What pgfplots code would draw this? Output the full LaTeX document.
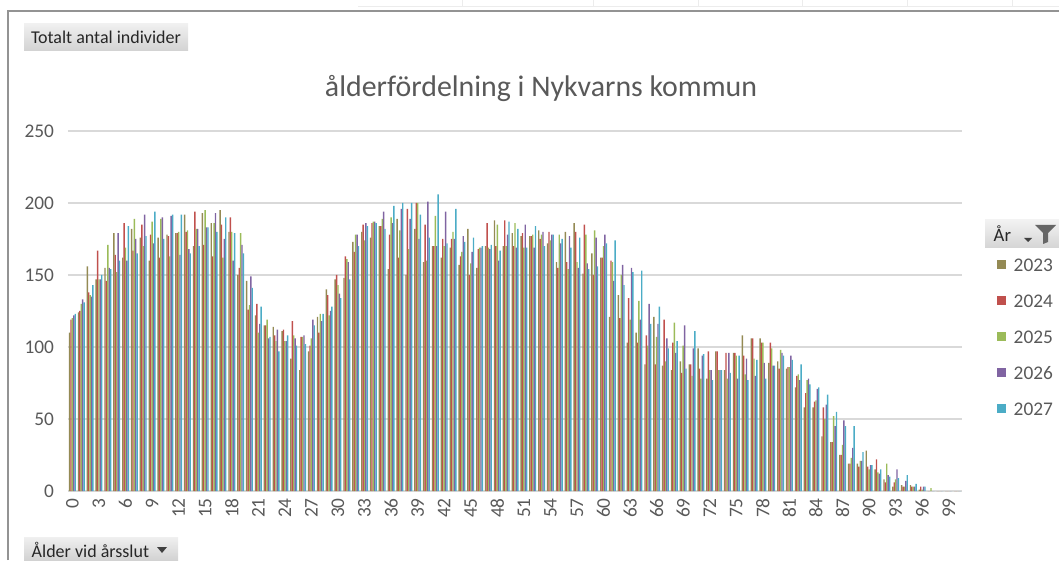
\documentclass[border=0pt]{standalone}
\usepackage{fontspec}
\setmainfont{Carlito}
\usepackage{pgfplots}
\pgfplotsset{compat=1.18}
\usepackage{pgfplotstable}
\definecolor{c23}{HTML}{948A54}
\definecolor{c24}{HTML}{C0504D}
\definecolor{c25}{HTML}{9BBB59}
\definecolor{c26}{HTML}{8064A2}
\definecolor{c27}{HTML}{4BACC6}
\definecolor{txt}{HTML}{595959}
\definecolor{gridc}{HTML}{D9D9D9}
\pgfplotstableread{
age y23 y24 y25 y26 y27
0 110 119 120 122 123
1 124 125 130 133 131
2 156 138 136 135 143
3 147 167 147 147 150
4 155 146 171 155 154
5 179 164 152 179 160
6 162 186 169 160 184
7 182 167 189 175 165
8 176 185 170 192 177
9 160 178 187 172 194
10 176 162 189 190 175
11 178 177 163 191 192
12 179 179 180 164 192
13 192 180 181 168 165
14 170 194 182 182 170
15 193 171 195 183 183
16 186 163 186 193 180
17 195 185 162 175 190
18 180 190 180 160 179
19 150 155 179 171 165
20 146 126 129 149 141
21 122 130 110 116 128
22 115 115 119 106 107
23 114 108 104 112 97
24 111 112 104 104 108
25 92 118 108 106 101
26 84 107 107 108 102
27 97 101 106 119 115
28 121 110 123 118 123
29 140 136 122 125 128
30 147 150 143 137 134
31 148 163 161 159 147
32 173 166 178 178 170
33 180 185 174 186 184
34 176 186 187 187 186
35 184 184 189 194 182
36 154 178 190 186 198
37 189 162 181 196 200
38 150 196 168 189 200
39 182 200 200 175 192
40 159 185 160 201 176
41 170 170 191 170 206
42 162 175 170 194 172
43 169 175 180 175 196
44 157 163 166 177 173
45 182 150 158 166 176
46 155 168 169 169 170
47 170 186 169 168 171
48 188 170 185 160 167
49 170 188 170 178 187
50 179 170 186 169 182
51 177 179 169 185 169
52 177 177 178 169 184
53 181 175 178 180 170
54 172 180 174 178 178
55 159 155 178 172 175
56 180 159 154 177 169
57 186 180 159 155 176
58 151 185 178 158 154
59 165 150 181 176 156
60 162 162 170 178 172
61 121 160 159 146 174
62 136 120 150 157 143
63 103 134 119 155 152
64 110 103 132 119 153
65 88 108 101 130 116
66 121 88 107 116 128
67 87 119 90 106 99
68 84 103 117 96 104
69 90 82 101 115 85
70 88 88 80 99 111
71 99 85 78 94 95
72 78 97 84 84 77
73 97 97 84 84 84
74 84 96 78 96 82
75 96 96 94 78 94
76 108 94 81 92 77
77 106 106 92 80 91
78 106 103 103 89 78
79 89 103 99 87 87
80 90 85 98 96 94
81 85 86 86 94 91
82 72 80 81 77 88
83 58 68 77 78 74
84 58 62 63 71 72
85 38 58 50 60 67
86 34 34 52 45 55
87 25 25 32 49 45
88 19 19 23 30 45
89 19 17 21 21 27
90 28 17 15 18 18
91 15 22 13 12 15
92 8 6 19 11 10
93 3 6 8 15 9
94 4 3 3 7 11
95 4 3 3 3 5
96 1 3 1 3 3
97 0 0 2 0 0
98 0 0 0 0 0
99 0 0 0 0 0
100 0 0 0 0 0
}\datatab
\begin{document}
\begin{tikzpicture}[x=0.75pt,y=0.75pt]
\path[use as bounding box] (0,0) rectangle (1059,560);
% spreadsheet remnants above the chart
\draw[gray!15, line width=0.75pt] (358,553) -- (1059,553);
\foreach \xx in {462,593,698,802,907,1012} {\draw[gray!15, line width=0.75pt] (\xx,553) -- (\xx,560);}
% chart frame
\draw[gray!85, line width=1.5pt] (8,0) -- (8,549) -- (1059,549);
\begin{axis}[
  at={(51pt,51.75pt)}, anchor=south west,
  scale only axis, width=670.5pt, height=270pt,
  xmin=-0.5, xmax=100.5, ymin=0, ymax=250,
  ybar=0pt, bar width=1.05pt,
  axis line style={draw=none},
  ymajorgrids, grid style={gridc, line width=0.9pt},
  major tick length=0pt,
  ytick={0,50,100,150,200,250},
  xtick={0,3,...,99},
  /pgf/number format/assume math mode=true,
  yticklabel style={font=\fontsize{14.5}{16}\selectfont, text=txt, xshift=-7pt},
  xticklabel style={font=\fontsize{14.5}{16}\selectfont, text=txt, rotate=90, anchor=east, yshift=0pt, xshift=-2pt},
  clip=false,
]
\addplot[fill=c23, draw=none] table[x=age,y=y23]{\datatab};
\addplot[fill=c24, draw=none] table[x=age,y=y24]{\datatab};
\addplot[fill=c25, draw=none] table[x=age,y=y25]{\datatab};
\addplot[fill=c26, draw=none] table[x=age,y=y26]{\datatab};
\addplot[fill=c27, draw=none] table[x=age,y=y27]{\datatab};
\end{axis}
% title
\node[text=txt, font=\fontsize{22.4}{25}\selectfont] at (541,472) {ålderfördelning i Nykvarns kommun};
% top button
\shade[top color=gray!12, bottom color=gray!35] (24,509) rectangle (188,536);
\node[font=\fontsize{13.5}{15}\selectfont, text=black!85] at (106,522.5) {Totalt antal individer};
% bottom button
\shade[top color=gray!12, bottom color=gray!35] (24,0) rectangle (178,23);
\node[font=\fontsize{13.5}{15}\selectfont, text=black!85, anchor=west] at (27,10) {Ålder vid årsslut};
\fill[black!75] (157,13) -- (167,13) -- (162,7) -- cycle;
% legend header
\shade[top color=gray!10, bottom color=gray!33] (985,312) rectangle (1059,340);
\node[font=\fontsize{14}{15}\selectfont, text=black!85, anchor=west] at (989,326) {År};
\fill[black!75] (1024,322) -- (1032,322) -- (1028,318) -- cycle;
\fill[gray!80!black] (1035,335) -- (1056,335) -- (1048,327) -- (1048,318) -- (1043,316) -- (1043,327) -- cycle;
% legend entries
\foreach \yy/\cc/\lab in {295/c23/2023, 259/c24/2024, 223/c25/2025, 187/c26/2026, 151/c27/2027} {
  \fill[\cc] (996.5,\yy-4.5) rectangle (1005.5,\yy+4.5);
  \node[font=\fontsize{14.5}{16}\selectfont, text=txt, anchor=west] at (1009,\yy) {\lab};
}
\end{tikzpicture}
\end{document}
